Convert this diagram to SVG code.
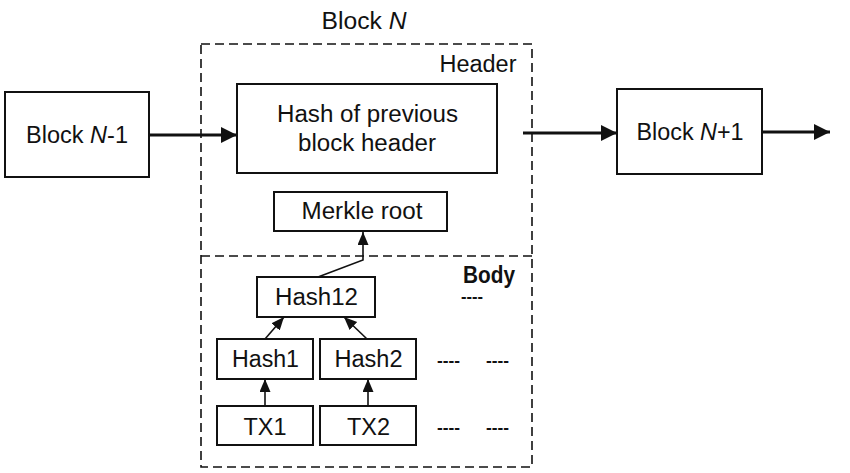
<svg xmlns="http://www.w3.org/2000/svg" width="850" height="473" viewBox="0 0 850 473">
<style>
.box{fill:#fff;stroke:#111;stroke-width:2}
.dash{fill:none;stroke:#111;stroke-width:1.6;stroke-dasharray:9 5}
.t{font-family:"Liberation Sans",Arial,sans-serif;font-size:23px;fill:#111;text-anchor:middle}
.it{font-style:italic}
.thick{stroke:#111;stroke-width:3;fill:none}
.thin{stroke:#111;stroke-width:1.6;fill:none}
.dots{font-family:"Liberation Sans",Arial,sans-serif;font-size:17px;font-weight:bold;fill:#111}
</style>
<defs>
<marker id="big" markerUnits="userSpaceOnUse" markerWidth="17" markerHeight="18" refX="16" refY="8" orient="auto">
<path d="M0,0 L16,8 L0,16 Z" fill="#111"/>
</marker>
<marker id="small" markerUnits="userSpaceOnUse" markerWidth="14" markerHeight="12" refX="13" refY="5.5" orient="auto">
<path d="M0,0 L13,5.5 L0,11 Z" fill="#111"/>
</marker>
</defs>
<g id="block-n">
<rect class="dash" x="201" y="44" width="331" height="423"/>
<line class="dash" x1="201" y1="256" x2="532" y2="256"/>
<text class="t" x="364" y="29" textLength="85" lengthAdjust="spacingAndGlyphs">Block <tspan class="it">N</tspan></text>
<text class="t" x="478" y="72" textLength="77" lengthAdjust="spacingAndGlyphs">Header</text>
<text class="t" x="489" y="283" style="font-weight:bold" textLength="52" lengthAdjust="spacingAndGlyphs">Body</text>
<text class="dots" x="461" y="302" textLength="22" lengthAdjust="spacingAndGlyphs">----</text>
<text class="dots" x="437" y="366" textLength="23" lengthAdjust="spacingAndGlyphs">----</text>
<text class="dots" x="486" y="366" textLength="23" lengthAdjust="spacingAndGlyphs">----</text>
<text class="dots" x="437" y="433" textLength="23" lengthAdjust="spacingAndGlyphs">----</text>
<text class="dots" x="486" y="433" textLength="23" lengthAdjust="spacingAndGlyphs">----</text>
</g>
<g id="block-n-1">
<rect class="box" x="5" y="92" width="144" height="85"/>
<text class="t" x="77" y="143" textLength="102" lengthAdjust="spacingAndGlyphs">Block <tspan class="it">N</tspan>-1</text>
</g>
<g id="block-n-plus-1">
<rect class="box" x="617" y="89" width="145" height="85"/>
<text class="t" x="690" y="140" textLength="107" lengthAdjust="spacingAndGlyphs">Block <tspan class="it">N</tspan>+1</text>
</g>
<g id="prev-hash">
<rect class="box" x="237" y="84" width="260" height="89"/>
<text class="t" x="367.5" y="122" textLength="181" lengthAdjust="spacingAndGlyphs">Hash of previous</text>
<text class="t" x="367" y="151" textLength="138" lengthAdjust="spacingAndGlyphs">block header</text>
</g>
<g id="merkle-root">
<rect class="box" x="274" y="192" width="173" height="39"/>
<text class="t" x="362" y="219" textLength="121" lengthAdjust="spacingAndGlyphs">Merkle root</text>
</g>
<g id="hash12">
<rect class="box" x="257" y="277" width="118" height="40"/>
<text class="t" x="316.5" y="305" textLength="83" lengthAdjust="spacingAndGlyphs">Hash12</text>
</g>
<g id="hash1">
<rect class="box" x="217" y="339" width="96" height="40"/>
<text class="t" x="265.5" y="367" textLength="67" lengthAdjust="spacingAndGlyphs">Hash1</text>
</g>
<g id="hash2">
<rect class="box" x="320" y="339" width="96" height="40"/>
<text class="t" x="368.5" y="367" textLength="68" lengthAdjust="spacingAndGlyphs">Hash2</text>
</g>
<g id="tx1">
<rect class="box" x="217" y="406" width="96" height="39"/>
<text class="t" x="265" y="435" textLength="43" lengthAdjust="spacingAndGlyphs">TX1</text>
</g>
<g id="tx2">
<rect class="box" x="320" y="406" width="96" height="39"/>
<text class="t" x="368.5" y="435" textLength="43" lengthAdjust="spacingAndGlyphs">TX2</text>
</g>
<g id="connectors">
<line class="thick" x1="149" y1="135" x2="237" y2="135" marker-end="url(#big)"/>
<line class="thick" x1="523" y1="133" x2="617" y2="133" marker-end="url(#big)"/>
<line class="thick" x1="762" y1="132" x2="830" y2="132" marker-end="url(#big)"/>
<polyline class="thin" points="318,277 363,260 363,232" marker-end="url(#small)"/>
<line class="thin" x1="265" y1="339" x2="284" y2="317" marker-end="url(#small)"/>
<line class="thin" x1="367" y1="339" x2="344" y2="317" marker-end="url(#small)"/>
<line class="thin" x1="265" y1="406" x2="265" y2="379" marker-end="url(#small)"/>
<line class="thin" x1="368" y1="406" x2="368" y2="379" marker-end="url(#small)"/>
</g>
</svg>
